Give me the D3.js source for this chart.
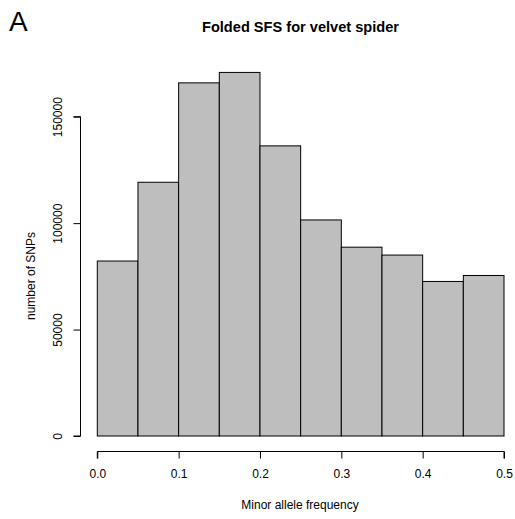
<!DOCTYPE html>
<meta charset="utf-8">
<style>
  body { margin: 0; background: #fff; }
  text { font-family: "Liberation Sans", Arial, sans-serif; fill: #000; }
</style>
<body>
<script src="https://d3js.org/d3.v7.min.js"></script>
<script>
  // bin edges (minor allele frequency) and counts
  var binStarts = [0.00, 0.05, 0.10, 0.15, 0.20, 0.25, 0.30, 0.35, 0.40, 0.45];
  var counts = [82200, 119200, 165900, 170800, 136300, 101500, 88700, 85000, 72600, 75400];
  var xTicks = [0.0, 0.1, 0.2, 0.3, 0.4, 0.5];
  var yTicks = [0, 50000, 100000, 150000];
  var binWidth = 0.05;

  var width = 515, height = 519;

  var x = d3.scaleLinear()
    .domain([0, 0.5])
    .range([97.3, 504]);

  var y = d3.scaleLinear()
    .domain([0, 150000])
    .range([436, 116.7]);

  var svg = d3.select("body").append("svg")
    .attr("width", width)
    .attr("height", height);

  // bars
  svg.selectAll(".bar")
    .data(counts)
    .enter()
    .append("rect")
    .attr("class", "bar")
    .attr("x", function (d, i) { return x(binStarts[i]); })
    .attr("y", function (d) { return y(d); })
    .attr("width", function (d, i) { return x(binStarts[i] + binWidth) - x(binStarts[i]); })
    .attr("height", function (d) { return y(0) - y(d); })
    .style("fill", "#bebebe")
    .style("stroke", "#000")
    .style("stroke-width", 1);

  // y axis (R style, rotated labels)
  var yAxis = svg.append("g")
    .attr("transform", "translate(80.5,0)")
    .call(d3.axisLeft(y).tickValues(yTicks).tickSize(7).tickPadding(0).tickFormat(d3.format("d")));
  yAxis.select(".domain").attr("d", "M-7," + y(0) + "H0V" + y(150000) + "H-7").style("stroke", "#000");
  yAxis.selectAll(".tick line").style("stroke", "#000");
  yAxis.selectAll(".tick text")
    .attr("x", 0).attr("dy", 0)
    .attr("transform", "translate(-19,0) rotate(-90)")
    .attr("text-anchor", "middle")
    .style("font-size", "12px")
    .style("font-family", "Liberation Sans, Arial, sans-serif");

  // x axis
  var xAxis = svg.append("g")
    .attr("transform", "translate(0,451.5)")
    .call(d3.axisBottom(x).tickValues(xTicks).tickSize(7).tickPadding(11).tickFormat(d3.format(".1f")));
  xAxis.select(".domain").attr("d", "M" + x(0) + ",7V0H" + x(0.5) + "V7").style("stroke", "#000");
  xAxis.selectAll(".tick line").style("stroke", "#000");
  xAxis.selectAll(".tick text")
    .style("font-size", "12px")
    .style("font-family", "Liberation Sans, Arial, sans-serif");

  // titles
  svg.append("text")
    .attr("x", 300.5).attr("y", 32)
    .attr("text-anchor", "middle")
    .style("font-size", "14.6px")
    .style("font-weight", "bold")
    .text("Folded SFS for velvet spider");

  svg.append("text")
    .attr("x", 9).attr("y", 31)
    .style("font-size", "28px")
    .text("A");

  svg.append("text")
    .attr("x", 300).attr("y", 509)
    .attr("text-anchor", "middle")
    .style("font-size", "12px")
    .text("Minor allele frequency");

  svg.append("text")
    .attr("transform", "translate(35,276) rotate(-90)")
    .attr("text-anchor", "middle")
    .style("font-size", "12px")
    .text("number of SNPs");
</script>
</body>
